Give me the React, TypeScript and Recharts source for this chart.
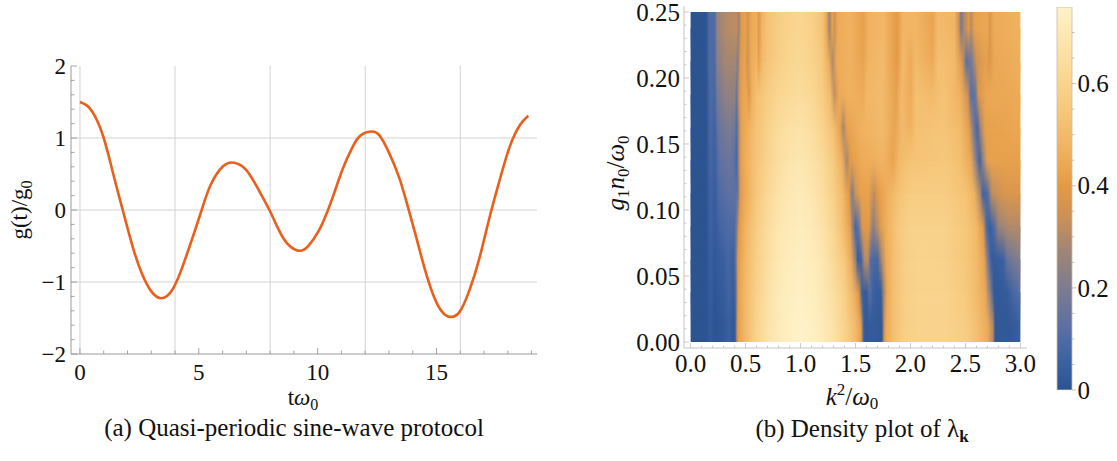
import React from 'react';
import {
  LineChart, Line, XAxis, YAxis, ReferenceLine,
  ComposedChart, Area, BarChart, Bar,
} from 'recharts';

const SERIF = '"Liberation Serif", "DejaVu Serif", serif';

// ---------------- Panel (a): g(t)/g0 ----------------
const tPoints = [0, 0.3, 0.6, 1.0, 1.4, 1.8, 2.2, 2.6, 3.0, 3.44, 3.9, 4.3, 4.7, 5.12, 5.5, 6.0, 6.48, 7.0, 7.5, 7.97, 8.4, 8.79, 9.24, 9.63, 10.06, 10.41, 10.69, 11.04, 11.46, 11.82, 12.24, 12.59, 13.01, 13.44, 13.79, 14.14, 14.56, 14.99, 15.34, 15.62, 15.97, 16.39, 16.82, 17.24, 17.66, 18.08, 18.51, 18.86];
const gPoints = [1.5, 1.45, 1.32, 1.0, 0.5, 0.0, -0.49, -0.88, -1.13, -1.225, -1.1, -0.8, -0.42, 0.0, 0.35, 0.6, 0.657, 0.555, 0.29, 0.0, -0.3, -0.49, -0.566, -0.49, -0.28, -0.02, 0.23, 0.56, 0.87, 1.04, 1.09, 1.04, 0.79, 0.44, 0.05, -0.37, -0.88, -1.28, -1.45, -1.485, -1.415, -1.11, -0.65, -0.09, 0.42, 0.88, 1.18, 1.31];
const aXDomain = [-0.377, 19.227];
const aYDomain = [-2, 2];
const aXMajor = [0, 5, 10, 15];
const aXTicks = [0, 1, 2, 3, 4, 5, 6, 7, 8, 9, 10, 11, 12, 13, 14, 15, 16, 17, 18, 19];
const aYMajor = [-2, -1, 0, 1, 2];
const aYTicks = [-2, -1.8, -1.6, -1.4, -1.2, -1, -0.8, -0.6, -0.4, -0.2, 0, 0.2, 0.4, 0.6, 0.8, 1, 1.2, 1.4, 1.6, 1.8, 2];
const aGridX = [0, 4, 8, 12, 16];
const aGridY = [-1, 0, 1];

// ---------------- Panel (b): density of lambda_k ----------------
const bXDomain = [-0.06, 3.06];
const bYDomain = [-0.0045, 0.2545];
const bXMajor = [0, 0.5, 1, 1.5, 2, 2.5, 3];
const bXTicks = [0, 0.1, 0.2, 0.3, 0.4, 0.5, 0.6, 0.7, 0.8, 0.9, 1, 1.1, 1.2, 1.3, 1.4, 1.5, 1.6, 1.7, 1.8, 1.9, 2, 2.1, 2.2, 2.3, 2.4, 2.5, 2.6, 2.7, 2.8, 2.9, 3];
const bYMajor = [0, 0.05, 0.1, 0.15, 0.2, 0.25];
const bYTicks = [0, 0.01, 0.02, 0.03, 0.04, 0.05, 0.06, 0.07, 0.08, 0.09, 0.1, 0.11, 0.12, 0.13, 0.14, 0.15, 0.16, 0.17, 0.18, 0.19, 0.2, 0.21, 0.22, 0.23, 0.24, 0.25];
const kRange = [0, 3];
const gRange = [0, 0.25];
// g1 n0 / omega0 level at which each sampled row was read
const rowLevels = [0.0125, 0.0375, 0.0625, 0.0875, 0.1125, 0.1375, 0.1625, 0.1875, 0.2125, 0.2375];

// each row: [k^2/omega0, lambda] samples read across the plot at that level
const row0 = [[0, 0], [0.14, 0], [0.18, 0.03], [0.22, 0], [0.3, 0.02], [0.35, 0.05], [0.38, 0.02], [0.405, 0.03], [0.42, 0.3], [0.435, 0.42], [0.5, 0.5], [0.6, 0.6], [0.7, 0.67], [0.8, 0.71], [0.9, 0.74], [1.0, 0.75], [1.1, 0.74], [1.2, 0.71], [1.3, 0.67], [1.4, 0.6], [1.5, 0.5], [1.55, 0.42], [1.57, 0.1], [1.585, 0.02], [1.65, 0.03], [1.74, 0.02], [1.76, 0.35], [1.78, 0.45], [1.85, 0.52], [1.95, 0.58], [2.1, 0.6], [2.3, 0.6], [2.5, 0.57], [2.6, 0.52], [2.7, 0.45], [2.75, 0.3], [2.77, 0.02], [2.9, 0.02], [2.95, 0.03], [3.0, 0.05]];
const row1 = [[0, 0], [0.14, 0], [0.18, 0.04], [0.22, 0.01], [0.3, 0.04], [0.35, 0.07], [0.39, 0.04], [0.41, 0.1], [0.43, 0.4], [0.45, 0.44], [0.5, 0.5], [0.6, 0.59], [0.7, 0.66], [0.8, 0.71], [0.9, 0.73], [1.0, 0.74], [1.1, 0.73], [1.2, 0.7], [1.3, 0.65], [1.4, 0.58], [1.48, 0.48], [1.53, 0.38], [1.56, 0.05], [1.6, 0.03], [1.63, 0.12], [1.66, 0.05], [1.73, 0.03], [1.76, 0.3], [1.79, 0.45], [1.85, 0.52], [1.95, 0.58], [2.1, 0.6], [2.3, 0.6], [2.5, 0.56], [2.6, 0.5], [2.68, 0.44], [2.73, 0.2], [2.76, 0.02], [2.88, 0.03], [2.93, 0.08], [3.0, 0.12]];
const row2 = [[0, 0], [0.14, 0], [0.18, 0.05], [0.22, 0.02], [0.3, 0.05], [0.34, 0.08], [0.39, 0.05], [0.41, 0.15], [0.43, 0.4], [0.46, 0.44], [0.5, 0.49], [0.6, 0.58], [0.7, 0.65], [0.8, 0.7], [0.9, 0.72], [1.0, 0.73], [1.1, 0.72], [1.2, 0.69], [1.3, 0.63], [1.4, 0.55], [1.46, 0.45], [1.5, 0.25], [1.52, 0.04], [1.55, 0.06], [1.58, 0.3], [1.61, 0.32], [1.64, 0.1], [1.7, 0.08], [1.74, 0.3], [1.78, 0.45], [1.85, 0.52], [1.95, 0.58], [2.1, 0.6], [2.3, 0.59], [2.5, 0.55], [2.6, 0.5], [2.67, 0.43], [2.71, 0.15], [2.74, 0.03], [2.84, 0.05], [2.88, 0.15], [3.0, 0.22]];
const row3 = [[0, 0], [0.14, 0], [0.18, 0.06], [0.22, 0.03], [0.28, 0.08], [0.35, 0.1], [0.4, 0.1], [0.42, 0.2], [0.44, 0.4], [0.47, 0.44], [0.5, 0.48], [0.6, 0.57], [0.7, 0.64], [0.8, 0.69], [0.9, 0.71], [1.0, 0.72], [1.1, 0.71], [1.2, 0.67], [1.3, 0.61], [1.38, 0.52], [1.45, 0.42], [1.48, 0.2], [1.5, 0.08], [1.53, 0.15], [1.56, 0.38], [1.62, 0.4], [1.66, 0.22], [1.69, 0.3], [1.74, 0.42], [1.8, 0.48], [1.9, 0.56], [2.0, 0.59], [2.3, 0.59], [2.5, 0.55], [2.6, 0.49], [2.66, 0.4], [2.69, 0.1], [2.72, 0.04], [2.76, 0.1], [2.8, 0.25], [2.9, 0.3], [3.0, 0.3]];
const row4 = [[0, 0], [0.14, 0], [0.18, 0.07], [0.22, 0.04], [0.26, 0.1], [0.35, 0.13], [0.41, 0.13], [0.43, 0.15], [0.45, 0.38], [0.48, 0.43], [0.55, 0.5], [0.6, 0.55], [0.7, 0.62], [0.8, 0.67], [0.9, 0.7], [1.0, 0.71], [1.1, 0.69], [1.2, 0.65], [1.3, 0.58], [1.38, 0.5], [1.44, 0.4], [1.47, 0.2], [1.5, 0.35], [1.55, 0.42], [1.62, 0.42], [1.67, 0.32], [1.7, 0.4], [1.8, 0.47], [1.9, 0.53], [2.0, 0.57], [2.3, 0.57], [2.5, 0.53], [2.58, 0.47], [2.63, 0.3], [2.66, 0.06], [2.7, 0.1], [2.74, 0.32], [2.85, 0.37], [3.0, 0.38]];
const row5 = [[0, 0], [0.14, 0], [0.18, 0.08], [0.22, 0.05], [0.26, 0.13], [0.35, 0.16], [0.39, 0.14], [0.42, 0.08], [0.44, 0.3], [0.46, 0.42], [0.5, 0.46], [0.6, 0.54], [0.7, 0.6], [0.8, 0.65], [0.9, 0.68], [1.0, 0.69], [1.1, 0.67], [1.2, 0.63], [1.3, 0.56], [1.38, 0.46], [1.42, 0.28], [1.45, 0.4], [1.55, 0.45], [1.65, 0.46], [1.75, 0.48], [1.84, 0.43], [1.9, 0.5], [2.0, 0.53], [2.3, 0.55], [2.45, 0.52], [2.55, 0.44], [2.6, 0.2], [2.63, 0.06], [2.66, 0.25], [2.7, 0.42], [2.85, 0.42], [3.0, 0.42]];
const row6 = [[0, 0], [0.14, 0], [0.18, 0.09], [0.22, 0.06], [0.25, 0.15], [0.35, 0.2], [0.4, 0.17], [0.42, 0.1], [0.44, 0.3], [0.46, 0.42], [0.5, 0.45], [0.6, 0.53], [0.7, 0.59], [0.8, 0.64], [0.9, 0.66], [1.0, 0.67], [1.1, 0.65], [1.2, 0.6], [1.3, 0.52], [1.36, 0.42], [1.39, 0.28], [1.42, 0.42], [1.55, 0.47], [1.65, 0.48], [1.75, 0.5], [1.86, 0.43], [1.92, 0.5], [2.0, 0.47], [2.05, 0.52], [2.3, 0.54], [2.45, 0.5], [2.53, 0.42], [2.58, 0.15], [2.61, 0.08], [2.64, 0.3], [2.68, 0.42], [2.85, 0.43], [3.0, 0.44]];
const row7 = [[0, 0], [0.14, 0], [0.18, 0.1], [0.22, 0.08], [0.24, 0.18], [0.32, 0.24], [0.4, 0.24], [0.42, 0.15], [0.44, 0.35], [0.47, 0.43], [0.51, 0.44], [0.53, 0.38], [0.56, 0.47], [0.6, 0.52], [0.7, 0.57], [0.8, 0.61], [0.9, 0.63], [1.0, 0.64], [1.1, 0.62], [1.2, 0.57], [1.27, 0.5], [1.31, 0.33], [1.35, 0.45], [1.45, 0.47], [1.57, 0.45], [1.6, 0.49], [1.75, 0.5], [1.87, 0.42], [1.92, 0.5], [2.0, 0.45], [2.05, 0.52], [2.2, 0.5], [2.3, 0.53], [2.45, 0.47], [2.52, 0.35], [2.55, 0.12], [2.59, 0.15], [2.62, 0.38], [2.7, 0.44], [2.85, 0.44], [3.0, 0.45]];
const row8 = [[0, 0], [0.14, 0], [0.17, 0.1], [0.22, 0.09], [0.24, 0.22], [0.32, 0.28], [0.41, 0.28], [0.43, 0.2], [0.45, 0.38], [0.49, 0.43], [0.52, 0.35], [0.55, 0.45], [0.6, 0.48], [0.62, 0.42], [0.65, 0.5], [0.7, 0.54], [0.8, 0.58], [0.9, 0.61], [1.0, 0.62], [1.1, 0.6], [1.2, 0.55], [1.26, 0.45], [1.29, 0.3], [1.33, 0.45], [1.45, 0.47], [1.57, 0.43], [1.62, 0.48], [1.75, 0.5], [1.88, 0.4], [1.93, 0.5], [2.0, 0.45], [2.05, 0.5], [2.2, 0.45], [2.25, 0.52], [2.4, 0.5], [2.47, 0.38], [2.51, 0.12], [2.56, 0.2], [2.6, 0.35], [2.68, 0.42], [2.72, 0.38], [2.76, 0.44], [3.0, 0.46]];
const row9 = [[0, 0], [0.14, 0], [0.17, 0.1], [0.22, 0.1], [0.24, 0.25], [0.32, 0.3], [0.42, 0.32], [0.44, 0.25], [0.46, 0.4], [0.5, 0.42], [0.52, 0.36], [0.55, 0.44], [0.6, 0.46], [0.62, 0.38], [0.65, 0.48], [0.7, 0.53], [0.8, 0.57], [0.9, 0.6], [1.0, 0.61], [1.1, 0.59], [1.2, 0.53], [1.24, 0.43], [1.26, 0.25], [1.29, 0.42], [1.31, 0.35], [1.34, 0.45], [1.45, 0.47], [1.57, 0.42], [1.62, 0.47], [1.75, 0.49], [1.88, 0.4], [1.93, 0.48], [2.05, 0.48], [2.2, 0.43], [2.25, 0.5], [2.4, 0.48], [2.44, 0.35], [2.46, 0.18], [2.49, 0.3], [2.53, 0.4], [2.55, 0.3], [2.58, 0.42], [2.7, 0.44], [2.72, 0.38], [2.76, 0.45], [3.0, 0.47]];
const densityRows = [row0, row1, row2, row3, row4, row5, row6, row7, row8, row9];

// ---------------- Colour bar ----------------
const cbarMax = 0.75;
const cbarMajor = [0, 0.2, 0.4, 0.6];
const cbarTicks = [0, 0.05, 0.1, 0.15, 0.2, 0.25, 0.3, 0.35, 0.4, 0.45, 0.5, 0.55, 0.6, 0.65, 0.7];
const cmapValues = [0, 0.06, 0.12, 0.2, 0.28, 0.34, 0.4, 0.47, 0.55, 0.62, 0.7, 0.75];
const cmapColors = ['#2c5491', '#3d62a3', '#5a6fa5', '#7d7c90', '#a58672', '#cc9156', '#e49a45', '#f0b260', '#f6c87c', '#fad894', '#fde8b4', '#fff2c8'];

function hexToRgb(h: string) {
  const n = parseInt(h.slice(1), 16);
  return [(n >> 16) & 255, (n >> 8) & 255, n & 255];
}
function colorOf(v: number) {
  const x = Math.max(0, Math.min(cbarMax, v));
  for (let i = 0; i < cmapValues.length - 1; i++) {
    if (x <= cmapValues[i + 1]) {
      const f = (x - cmapValues[i]) / (cmapValues[i + 1] - cmapValues[i]);
      const a = hexToRgb(cmapColors[i]);
      const b = hexToRgb(cmapColors[i + 1]);
      const c = a.map((ai, j) => Math.round(ai + (b[j] - ai) * f));
      return `rgb(${c[0]},${c[1]},${c[2]})`;
    }
  }
  return cmapColors[cmapColors.length - 1];
}

const near = (list: number[]) => (v: number) => list.some((m) => Math.abs(m - v) < 1e-6);

type Side = 'bottom' | 'top' | 'left' | 'right';
function frameTick(o: {
  side: Side; isMajor: (v: number) => boolean; major: number; minor: number;
  color: string; fmt?: (v: number) => string; gap?: number; fontSize?: number; outward?: boolean;
}) {
  return (props: any) => {
    const { x, y, payload } = props;
    const v = payload.value;
    const M = o.isMajor(v);
    const len = M ? o.major : o.minor;
    const d = o.outward ? -1 : 1;
    const label = M && o.fmt ? o.fmt(v) : null;
    const ts = { fontFamily: SERIF, fontSize: o.fontSize, fill: '#111' } as any;
    let line: any = null;
    let text: any = null;
    if (o.side === 'bottom') {
      line = <line x1={x} y1={y} x2={x} y2={y - d * len} stroke={o.color} strokeWidth={0.9} />;
      if (label) text = <text x={x} y={y + (o.gap || 0)} textAnchor="middle" dy="0.35em" fontFamily={SERIF} style={ts}>{label}</text>;
    } else if (o.side === 'top') {
      line = <line x1={x} y1={y} x2={x} y2={y + d * len} stroke={o.color} strokeWidth={0.9} />;
    } else if (o.side === 'left') {
      line = <line x1={x} y1={y} x2={x + d * len} y2={y} stroke={o.color} strokeWidth={0.9} />;
      if (label) text = <text x={x - (o.gap || 0)} y={y} textAnchor="end" dy="0.35em" fontFamily={SERIF} style={ts}>{label}</text>;
    } else {
      line = <line x1={x} y1={y} x2={x - d * len} y2={y} stroke={o.color} strokeWidth={0.9} />;
      if (label) text = <text x={x + (o.gap || 0)} y={y} textAnchor="start" dy="0.35em" fontFamily={SERIF} style={ts}>{label}</text>;
    }
    return <g>{line}{text}</g>;
  };
}

const fmtSigned = (v: number) => (v < 0 ? '\u2212' + Math.abs(v) : String(v));

const lineData = tPoints.map((t, i) => ({ t, g: gPoints[i] }));
const cbarData = [{ name: 'lambda', top: cbarMax }];

// Each sampled row is painted as a band: opaque from its own level up to the next level,
// and fading in (bottom to top) from the previous level, so neighbouring rows blend.
const nRows = rowLevels.length;
const bandLo = rowLevels.map((c, i) => (i === 0 ? gRange[0] : rowLevels[i - 1]));
const bandHi = rowLevels.map((c, i) => (i === nRows - 1 ? gRange[1] : rowLevels[i + 1]));
const bandFade = rowLevels.map((c, i) => (i === 0 ? 0 : (c - bandLo[i]) / (bandHi[i] - bandLo[i])));
const bandData = kRange.map((k) => {
  const o: any = { k };
  rowLevels.forEach((_, i) => {
    o['r' + i] = [bandLo[i], bandHi[i]];
  });
  return o;
});

const A_FRAME = '#9a9a9a';
const B_FRAME = '#c4c4c4';

function PanelA() {
  return (
    <LineChart width={560} height={461} data={lineData}
      margin={{ top: 66, right: 23, bottom: 0, left: 0 }}
      style={{ position: 'absolute', left: 0, top: 0 }}>
      <XAxis xAxisId="b" dataKey="t" type="number" domain={aXDomain} allowDataOverflow
        ticks={aXTicks} interval={0} height={107} tickSize={0} tickMargin={0}
        axisLine={{ stroke: A_FRAME }} tickLine={false}
        tick={frameTick({ side: 'bottom', isMajor: near(aXMajor), major: 6, minor: 3.5, color: A_FRAME, fmt: String, gap: 18, fontSize: 23 })} />
      <XAxis xAxisId="t" orientation="top" type="number" domain={aXDomain} allowDataOverflow
        ticks={aXTicks} interval={0} height={0} tickSize={0} tickMargin={0}
        axisLine={{ stroke: A_FRAME }} tickLine={false}
        tick={frameTick({ side: 'top', isMajor: near(aXMajor), major: 6, minor: 3.5, color: A_FRAME })} />
      <YAxis yAxisId="l" type="number" domain={aYDomain} allowDataOverflow
        ticks={aYTicks} interval={0} width={71} tickSize={0} tickMargin={0}
        axisLine={{ stroke: A_FRAME }} tickLine={false}
        tick={frameTick({ side: 'left', isMajor: near(aYMajor), major: 6, minor: 3.5, color: A_FRAME, fmt: fmtSigned, gap: 5, fontSize: 23 })} />
      <YAxis yAxisId="r" orientation="right" type="number" domain={aYDomain} allowDataOverflow
        ticks={aYTicks} interval={0} width={0} tickSize={0} tickMargin={0}
        axisLine={{ stroke: A_FRAME }} tickLine={false}
        tick={frameTick({ side: 'right', isMajor: near(aYMajor), major: 6, minor: 3.5, color: A_FRAME })} />
      {aGridX.map((v) => (
        <ReferenceLine key={'gx' + v} xAxisId="b" yAxisId="l" x={v} stroke="#d2d2d2" strokeWidth={1} />
      ))}
      {aGridY.map((v) => (
        <ReferenceLine key={'gy' + v} xAxisId="b" yAxisId="l" y={v} stroke="#d2d2d2" strokeWidth={1} />
      ))}
      <Line xAxisId="b" yAxisId="l" dataKey="g" type="natural" stroke="#e8601c" strokeWidth={2.6}
        dot={false} activeDot={false} isAnimationActive={false} />
    </LineChart>
  );
}

function PanelB() {
  return (
    <ComposedChart width={480} height={461} data={bandData}
      margin={{ top: 6, right: 13, bottom: 0, left: 0 }}
      style={{ position: 'absolute', left: 560, top: 0 }}>
      <defs>
        {densityRows.map((row, i) => (
          <linearGradient key={'g' + i} id={`lamRow${i}`} x1="0" y1="0" x2="1" y2="0">
            {row.map(([k, v], j) => (
              <stop key={j} offset={k / 3} stopColor={colorOf(v)} />
            ))}
          </linearGradient>
        ))}
        {densityRows.map((_, i) => (
          <linearGradient key={'mg' + i} id={`fadeGrad${i}`} x1="0" y1="0" x2="0" y2="1">
            <stop offset={0} stopColor="#fff" />
            <stop offset={1 - bandFade[i]} stopColor="#fff" />
            <stop offset={1} stopColor={i === 0 ? '#fff' : '#000'} />
          </linearGradient>
        ))}
        {densityRows.map((_, i) => (
          <mask key={'m' + i} id={`fadeMask${i}`} maskUnits="objectBoundingBox" maskContentUnits="objectBoundingBox"
            x="-0.01" y="-0.01" width="1.02" height="1.02">
            <rect x={-0.01} y={-0.01} width={1.02} height={1.02} fill={`url(#fadeGrad${i})`} />
          </mask>
        ))}
      </defs>
      <XAxis xAxisId="b" dataKey="k" type="number" domain={bXDomain} allowDataOverflow
        ticks={bXTicks} interval={0} height={113} tickSize={0} tickMargin={0}
        axisLine={{ stroke: B_FRAME }} tickLine={false}
        tick={frameTick({ side: 'bottom', isMajor: near(bXMajor), major: 5, minor: 2.5, color: B_FRAME, fmt: (v) => v.toFixed(1), gap: 15.5, fontSize: 25 })} />
      <XAxis xAxisId="t" orientation="top" dataKey="k" type="number" domain={bXDomain} allowDataOverflow
        ticks={bXTicks} interval={0} height={0} tickSize={0} tickMargin={0}
        axisLine={{ stroke: B_FRAME }} tickLine={false}
        tick={frameTick({ side: 'top', isMajor: near(bXMajor), major: 5, minor: 2.5, color: B_FRAME })} />
      <YAxis yAxisId="l" type="number" domain={bYDomain} allowDataOverflow
        ticks={bYTicks} interval={0} width={124} tickSize={0} tickMargin={0}
        axisLine={{ stroke: B_FRAME }} tickLine={false}
        tick={frameTick({ side: 'left', isMajor: near(bYMajor), major: 5, minor: 2.5, color: B_FRAME, fmt: (v) => v.toFixed(2), gap: 4, fontSize: 25 })} />
      <YAxis yAxisId="r" orientation="right" type="number" domain={bYDomain} allowDataOverflow
        ticks={bYTicks} interval={0} width={0} tickSize={0} tickMargin={0}
        axisLine={{ stroke: B_FRAME }} tickLine={false}
        tick={frameTick({ side: 'right', isMajor: near(bYMajor), major: 5, minor: 2.5, color: B_FRAME })} />
      {densityRows.map((_, i) => (
        <Area key={'row' + i} xAxisId="b" yAxisId="l" dataKey={'r' + i} type="linear"
          stroke="none" fill={`url(#lamRow${i})`} fillOpacity={1}
          mask={i === 0 ? undefined : `url(#fadeMask${i})`}
          dot={false} activeDot={false} isAnimationActive={false} />
      ))}
    </ComposedChart>
  );
}

function ColorBar() {
  return (
    <BarChart width={80} height={461} data={cbarData} barCategoryGap={0} barGap={0}
      margin={{ top: 7, right: 0, bottom: 71, left: 17 }}
      style={{ position: 'absolute', left: 1040, top: 0 }}>
      <defs>
        <linearGradient id="cbarGrad" x1="0" y1="1" x2="0" y2="0">
          {cmapValues.map((v, i) => (
            <stop key={i} offset={v / cbarMax} stopColor={cmapColors[i]} />
          ))}
        </linearGradient>
      </defs>
      <XAxis dataKey="name" hide />
      <YAxis orientation="right" type="number" domain={[0, cbarMax]} allowDataOverflow
        ticks={cbarTicks} interval={0} width={48} tickSize={0} tickMargin={0}
        axisLine={false} tickLine={false}
        tick={frameTick({ side: 'right', isMajor: near(cbarMajor), major: 4, minor: 2.5, color: '#b8b8b8', fmt: String, gap: 5.5, fontSize: 25, outward: true })} />
      <Bar dataKey="top" fill="url(#cbarGrad)" stroke="#c9bda6" strokeWidth={0.8} isAnimationActive={false} />
    </BarChart>
  );
}

function Titles() {
  const t = { fontFamily: SERIF, fill: '#111' } as any;
  return (
    <svg width={1117} height={461} style={{ position: 'absolute', left: 0, top: 0, pointerEvents: 'none' }}>
      <text transform="translate(27,210) rotate(-90)" textAnchor="middle" fontFamily={SERIF} style={{ ...t, fontSize: 23 }}>
        g(t)/g<tspan dy={5} fontSize={16}>0</tspan>
      </text>
      <text x={303} y={405} textAnchor="middle" fontFamily={SERIF} style={{ ...t, fontSize: 23 }}>
        t<tspan fontStyle="italic">ω</tspan><tspan dy={5} fontSize={16}>0</tspan>
      </text>
      <text x={294} y={436} textAnchor="middle" fontFamily={SERIF} style={{ ...t, fontSize: 25 }}>
        (a) Quasi-periodic sine-wave protocol
      </text>
      <text transform="translate(624,173) rotate(-90)" textAnchor="middle" fontFamily={SERIF} style={{ ...t, fontSize: 25 }}>
        <tspan fontStyle="italic">g</tspan><tspan dy={5} fontSize={17}>1</tspan>
        <tspan dy={-5} fontStyle="italic">n</tspan><tspan dy={5} fontSize={17}>0</tspan>
        <tspan dy={-5}>/</tspan><tspan fontStyle="italic">ω</tspan><tspan dy={5} fontSize={17}>0</tspan>
      </text>
      <text x={852} y={405} textAnchor="middle" fontFamily={SERIF} style={{ ...t, fontSize: 25 }}>
        <tspan fontStyle="italic">k</tspan><tspan dy={-10} fontSize={17}>2</tspan>
        <tspan dy={10}>/</tspan><tspan fontStyle="italic">ω</tspan><tspan dy={4} fontSize={17}>0</tspan>
      </text>
      <text x={862} y={437} textAnchor="middle" fontFamily={SERIF} style={{ ...t, fontSize: 25 }}>
        (b) Density plot of λ<tspan dy={5} fontSize={17} fontWeight="bold">k</tspan>
      </text>
    </svg>
  );
}

export default function App() {
  return (
    <div style={{ position: 'absolute', left: 0, top: 0, width: 1117, height: 461, background: '#fff', overflow: 'hidden' }}>
      <PanelA />
      <PanelB />
      <ColorBar />
      <Titles />
    </div>
  );
}
